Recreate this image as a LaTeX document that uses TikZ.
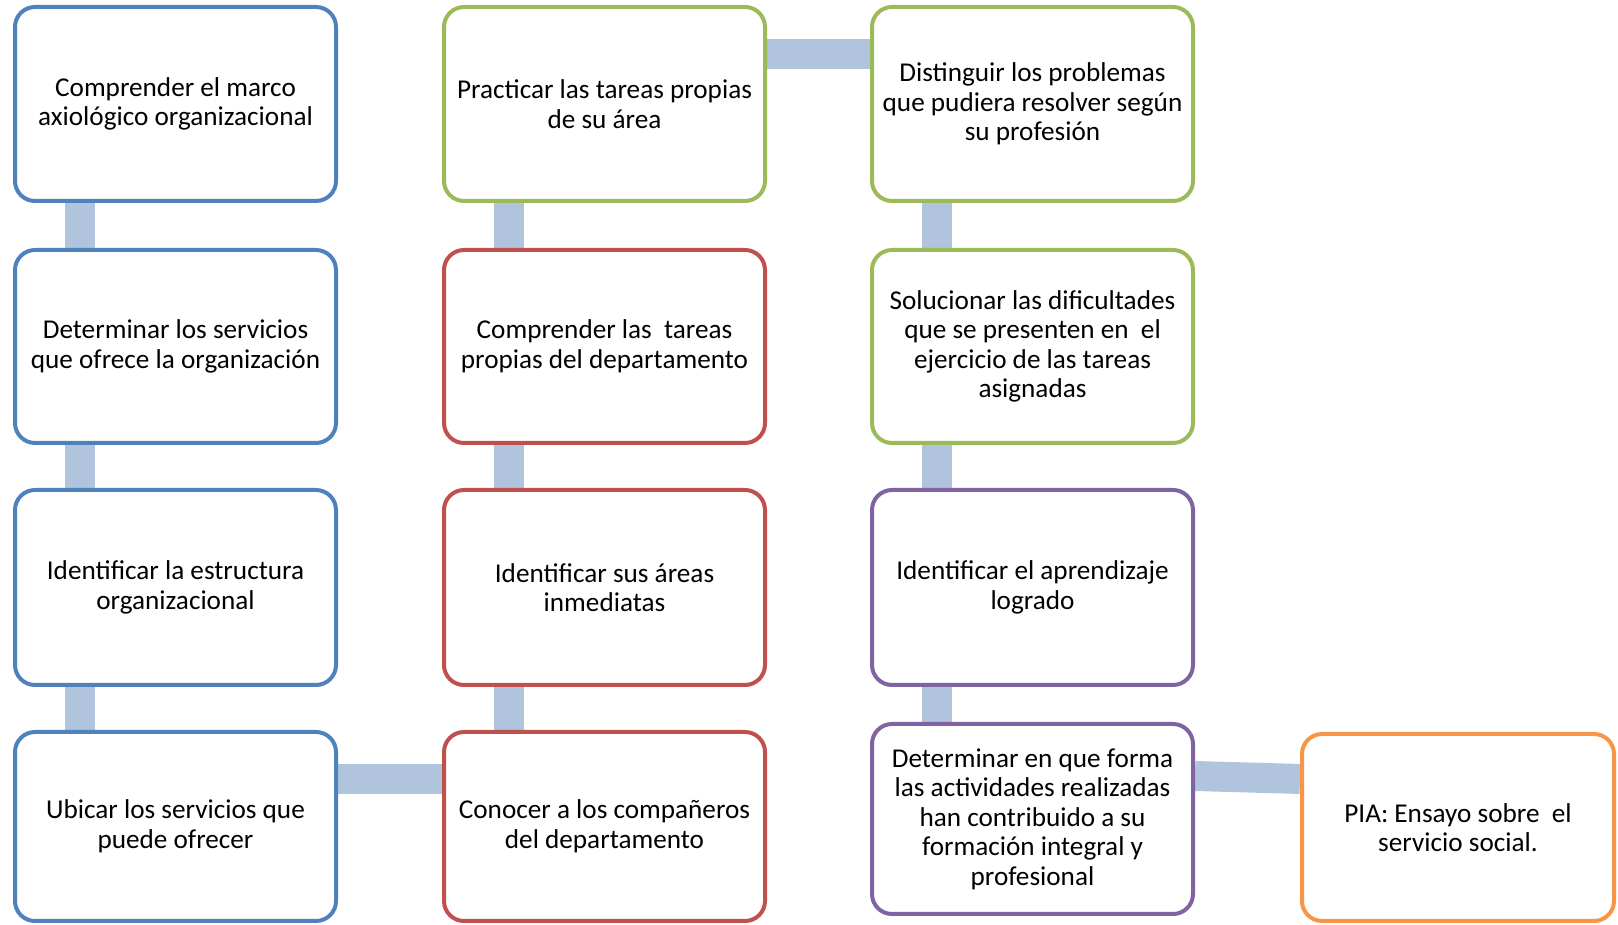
\documentclass[tikz,border=0pt]{standalone}
\usepackage{fontspec}
\setmainfont{Carlito}
\usetikzlibrary{backgrounds}
\definecolor{cblue}{HTML}{4F81BD}
\definecolor{cgreen}{HTML}{9BBB59}
\definecolor{cred}{HTML}{C0504D}
\definecolor{cpurple}{HTML}{8064A2}
\definecolor{corange}{HTML}{F79646}
\definecolor{cconn}{HTML}{B0C4DE}
\tikzset{
  box/.style={draw=#1, line width=4pt, rounded corners=20pt, fill=white,
    minimum width=321pt, minimum height=194pt, align=center, inner sep=0pt,
    font=\fontsize{27.2}{29.5}\selectfont},
  conn/.style={draw=cconn, line width=30pt, line cap=butt}
}
\begin{document}
\begin{tikzpicture}[x=1pt,y=1pt]
\useasboundingbox (0,0) rectangle (1618,925);
% column 1
\node[box=cblue] (a1) at (175.5,821) {Comprender el marco\\axiológico organizacional};
\node[box=cblue, minimum height=193pt] (a2) at (175.5,578.5) {Determinar los servicios\\que ofrece la organización};
\node[box=cblue, minimum height=195pt] (a3) at (175.5,337.5) {Identificar la estructura\\organizacional};
\node[box=cblue, minimum height=189pt] (a4) at (175.5,98.5) {Ubicar los servicios que\\puede ofrecer};
% column 2
\node[box=cgreen] (b1) at (604.5,821) {Practicar las tareas propias\\de su área};
\node[box=cred, minimum height=193pt] (b2) at (604.5,578.5) {Comprender las\ \ tareas\\propias del departamento};
\node[box=cred, minimum height=195pt] (b3) at (604.5,337.5) {Identificar sus áreas\\inmediatas};
\node[box=cred, minimum height=189pt] (b4) at (604.5,98.5) {Conocer a los compañeros\\del departamento};
% column 3
\node[box=cgreen] (c1) at (1032.5,821) {Distinguir los problemas\\que pudiera resolver según\\su profesión};
\node[box=cgreen, minimum height=193pt] (c2) at (1032.5,578.5) {Solucionar las dificultades\\que se presenten en\ \ el\\ejercicio de las tareas\\asignadas};
\node[box=cpurple, minimum height=195pt] (c3) at (1032.5,337.5) {Identificar el aprendizaje\\logrado};
\node[box=cpurple, minimum height=190pt] (c4) at (1032.5,106) {Determinar en que forma\\las actividades realizadas\\han contribuido a su\\formación integral y\\profesional};
% column 4
\node[box=corange, minimum width=312pt, minimum height=187pt] (d4) at (1458,97.5) {PIA: Ensayo sobre\ \ el\\servicio social.};
% connectors
\begin{scope}[on background layer]
\draw[conn] ([xshift=-95.5pt]a1.south) -- ([xshift=-95.5pt]a2.north);
\draw[conn] ([xshift=-95.5pt]a2.south) -- ([xshift=-95.5pt]a3.north);
\draw[conn] ([xshift=-95.5pt]a3.south) -- ([xshift=-95.5pt]a4.north);
\draw[conn] ([yshift=47pt]a4.east) -- ([yshift=47pt]b4.west);
\draw[conn] ([xshift=-95.5pt]b4.north) -- ([xshift=-95.5pt]b3.south);
\draw[conn] ([xshift=-95.5pt]b3.north) -- ([xshift=-95.5pt]b2.south);
\draw[conn] ([xshift=-95.5pt]b2.north) -- ([xshift=-95.5pt]b1.south);
\draw[conn] ([yshift=49.5pt]b1.east) -- ([yshift=49.5pt]c1.west);
\draw[conn] ([xshift=-95.5pt]c1.south) -- ([xshift=-95.5pt]c2.north);
\draw[conn] ([xshift=-95.5pt]c2.south) -- ([xshift=-95.5pt]c3.north);
\draw[conn] ([xshift=-95.5pt]c3.south) -- ([xshift=-95.5pt]c4.north);
\draw[conn] ([yshift=43pt]c4.east) -- ([yshift=48.5pt]d4.west);
\end{scope}
\end{tikzpicture}
\end{document}
